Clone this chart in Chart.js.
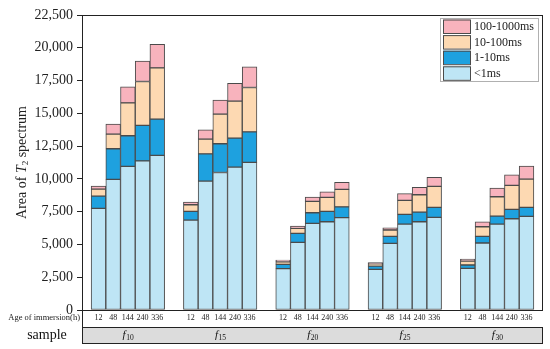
<!DOCTYPE html>
<html>
<head>
<meta charset="utf-8">
<script src="https://cdn.jsdelivr.net/npm/chart.js@4/dist/chart.umd.min.js"></script>
<style>
  html, body { margin: 0; padding: 0; background: #fff; }
  #wrap { width: 550px; height: 349px; }
</style>
</head>
<body>
<div id="wrap"><canvas id="t2Chart" width="550" height="349"></canvas></div>
<script>
// ===== T2 spectrum area, stacked by relaxation range =====

// immersion ages (h) and sample names (subscript part of f)
var ages = ['12', '48', '144', '240', '336'];
var samples = ['10', '15', '20', '25', '30'];

// values per bar, sample by sample, ages in order
var lt1ms = [7750, 9960, 10950, 11380, 11790,
             6860, 9830, 10490, 10900, 11260,
             3150, 5160, 6610, 6730, 7040,
             3100, 5080, 6550, 6730, 7070,
             3180, 5110, 6550, 6960, 7140];
var ms1to10 = [940, 2340, 2340, 2700, 2770,
               660, 2080, 2190, 2210, 2330,
               330, 680, 810, 790, 830,
               250, 530, 740, 740, 760,
               250, 500, 610, 710, 690];
var ms10to100 = [530, 1110, 2510, 3350, 3910,
                 510, 1120, 2260, 2820, 3380,
                 200, 380, 860, 1070, 1330,
                 170, 490, 1070, 1320, 1600,
                 300, 740, 1480, 1830, 2150];
var ms100to1000 = [230, 770, 1220, 1550, 1800,
                   200, 710, 1070, 1350, 1580,
                   130, 180, 330, 430, 530,
                   90, 170, 510, 560, 680,
                   160, 380, 660, 810, 1000];

var seriesLabels = ['<1ms', '1-10ms', '10-100ms', '100-1000ms'];
var yTicks = [0, 2500, 5000, 7500, 10000, 12500, 15000, 17500, 20000, 22500];

(function() {
    'use strict';

    var SERIF = "'Liberation Serif', 'Times New Roman', serif";
    var GROUP_STEP = 6.28;   // one group = 5 bars + gap, in bar widths
    var colors = ['#bee5f5', '#1ea1df', '#fdd9b2', '#f8b3bd'];
    var edge = '#4a4a4a';

    function toPoints(values) {
        return values.map(function(v, k) {
            var g = Math.floor(k / ages.length);
            var i = k % ages.length;
            return { x: g * GROUP_STEP + i, y: v };
        });
    }

    var seriesValues = [lt1ms, ms1to10, ms10to100, ms100to1000];
    var datasets = seriesValues.map(function(vals, s) {
        return {
            label: seriesLabels[s],
            data: toPoints(vals),
            backgroundColor: colors[s],
            borderColor: edge,
            borderWidth: 1,
            borderSkipped: false,
            barPercentage: 1,
            categoryPercentage: 1
        };
    });

    // frame, x labels, sample strip, y title, legend
    var decor = {
        id: 'decor',
        afterDraw: function(chart) {
            var ctx = chart.ctx;
            var a = chart.chartArea;
            var xs = chart.scales.x;
            ctx.save();

            ctx.strokeStyle = '#222';
            ctx.lineWidth = 1;
            ctx.strokeRect(Math.round(a.left) + 0.5, Math.round(a.top) + 0.5,
                Math.round(a.right - a.left) - 1, Math.round(a.bottom - a.top));

            // age row
            ctx.fillStyle = '#222';
            ctx.font = '8px ' + SERIF;
            ctx.textBaseline = 'middle';
            ctx.textAlign = 'center';
            samples.forEach(function(s, g) {
                ages.forEach(function(age, i) {
                    ctx.fillText(age, xs.getPixelForValue(g * GROUP_STEP + i), a.bottom + 8);
                });
            });
            ctx.textAlign = 'right';
            ctx.font = '8.5px ' + SERIF;
            ctx.fillText('Age of immersion(h)', a.left - 2, a.bottom + 8);

            // axis line carried down to the sample strip
            var boxTop = a.bottom + 17, boxH = 16;
            ctx.beginPath();
            ctx.moveTo(Math.round(a.left) + 0.5, a.bottom);
            ctx.lineTo(Math.round(a.left) + 0.5, boxTop);
            ctx.stroke();
            ctx.fillStyle = '#dcdcdc';
            ctx.fillRect(a.left, boxTop, a.right - a.left, boxH);
            ctx.strokeRect(Math.round(a.left) + 0.5, boxTop + 0.5, Math.round(a.right - a.left) - 1, boxH);

            ctx.fillStyle = '#111';
            ctx.font = '14px ' + SERIF;
            ctx.textAlign = 'center';
            ctx.fillText('sample', 47, boxTop + boxH / 2);

            samples.forEach(function(s, g) {
                var cx = xs.getPixelForValue(g * GROUP_STEP + 2);
                ctx.font = 'italic 11px ' + SERIF;
                var wf = ctx.measureText('f').width;
                ctx.font = '7.5px ' + SERIF;
                var ws = ctx.measureText(s).width;
                var x0 = cx - (wf + ws) / 2;
                ctx.textAlign = 'left';
                ctx.font = 'italic 11px ' + SERIF;
                ctx.fillText('f', x0, boxTop + boxH / 2);
                ctx.font = '7.5px ' + SERIF;
                ctx.fillText(s, x0 + wf + 0.5, boxTop + boxH / 2 + 3);
            });

            // y title: Area of T2 spectrum
            ctx.save();
            ctx.translate(22, (a.top + a.bottom) / 2);
            ctx.rotate(-Math.PI / 2);
            var parts = [
                { t: 'Area of ', f: '14px ' + SERIF, dy: 0 },
                { t: 'T', f: 'italic 14px ' + SERIF, dy: 0 },
                { t: '2', f: '9px ' + SERIF, dy: 4 },
                { t: ' spectrum', f: '14px ' + SERIF, dy: 0 }
            ];
            var total = 0;
            parts.forEach(function(p) { ctx.font = p.f; p.w = ctx.measureText(p.t).width; total += p.w; });
            var px = -total / 2;
            ctx.textAlign = 'left';
            ctx.fillStyle = '#222';
            parts.forEach(function(p) {
                ctx.font = p.f;
                ctx.fillText(p.t, px, p.dy);
                px += p.w;
            });
            ctx.restore();

            // legend, top item first
            var lx = 440, ly = 18, lw = 98, lh = 63;
            ctx.fillStyle = '#fff';
            ctx.fillRect(lx, ly, lw, lh);
            ctx.strokeStyle = '#b0b0b0';
            ctx.strokeRect(lx + 0.5, ly + 0.5, lw, lh);
            ctx.font = '12px ' + SERIF;
            ctx.textAlign = 'left';
            chart.data.datasets.slice().reverse().forEach(function(ds, r) {
                var y = ly + 1.5 + r * 15.6;
                ctx.fillStyle = ds.backgroundColor;
                ctx.fillRect(lx + 3, y, 27, 13.5);
                ctx.strokeStyle = edge;
                ctx.strokeRect(lx + 3.5, y + 0.5, 27, 13.5);
                ctx.fillStyle = '#222';
                ctx.fillText(ds.label, lx + 34, y + 7.5);
            });

            ctx.restore();
        }
    };

    var ctx = document.getElementById('t2Chart').getContext('2d');
    new Chart(ctx, {
        type: 'bar',
        data: { datasets: datasets },
        options: {
            responsive: false,
            animation: false,
            devicePixelRatio: 1,
            layout: { padding: { top: 15, right: 7, bottom: 39, left: 0 } },
            plugins: {
                legend: { display: false },
                tooltip: { enabled: false }
            },
            scales: {
                x: {
                    type: 'linear',
                    stacked: true,
                    display: false,
                    offset: false,
                    min: -1.12,
                    max: 30.24
                },
                y: {
                    stacked: true,
                    min: 0,
                    max: 22500,
                    afterFit: function(scale) { scale.width = 82; },
                    afterBuildTicks: function(scale) {
                        scale.ticks = yTicks.map(function(v) { return { value: v }; });
                    },
                    border: { display: false },
                    grid: {
                        drawOnChartArea: false,
                        drawTicks: true,
                        tickLength: 5,
                        color: '#222'
                    },
                    ticks: {
                        color: '#222',
                        padding: 4,
                        font: { size: 14, family: SERIF },
                        callback: function(v) { return v.toLocaleString('en-US'); }
                    }
                }
            }
        },
        plugins: [decor]
    });
})();
</script>
</body>
</html>
